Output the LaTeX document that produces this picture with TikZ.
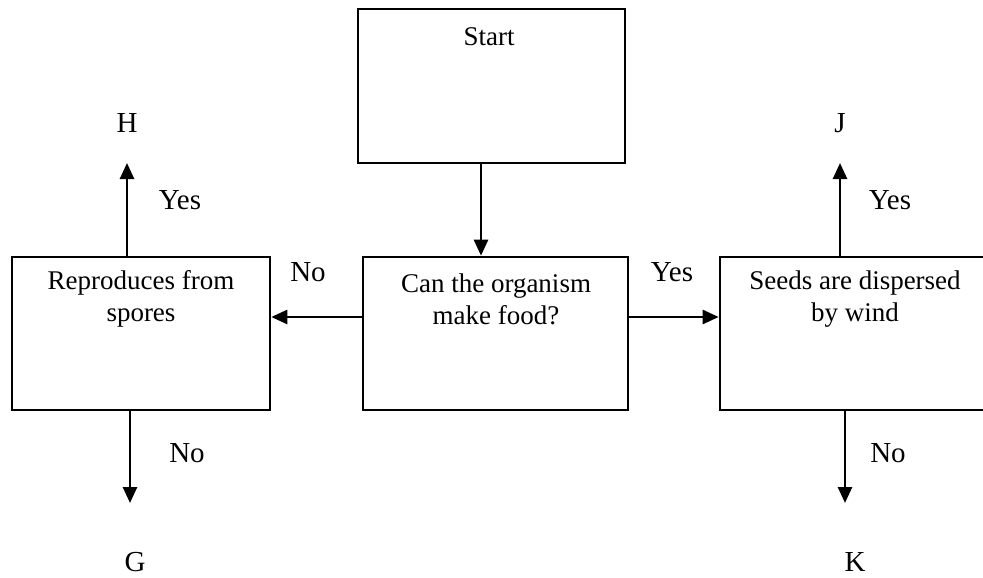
\documentclass[tikz,border=0pt]{standalone}
\usepackage{fontspec}
\setmainfont{Liberation Serif}
\usetikzlibrary{arrows.meta}
\begin{document}
\begin{tikzpicture}[x=1pt,y=-1pt,
  box/.style={draw,line width=2.6pt,minimum width=#1,minimum height=153pt,inner sep=0pt},
  boxtext/.style={align=center,font=\fontsize{27}{32}\selectfont,inner sep=0pt},
  lbl/.style={font=\fontsize{29}{32}\selectfont,inner sep=0pt},
  arr/.style={line width=2.6pt,-{Triangle[width=14pt,length=16pt]}}]
\useasboundingbox (0,0) rectangle (983,578);
\clip (0,0) rectangle (983,578);

% boxes
\node[box=267pt,minimum height=154pt] (start) at (491.5,86) {};
\node[box=258pt] (left) at (141,333.5) {};
\node[box=265pt] (center) at (495.5,333.5) {};
\node[box=280pt] (right) at (860,333.5) {};

% box texts
\node[boxtext] (tstart) at (489,37) {Start};
\node[boxtext] (tleft) at (141,299) {Reproduces from\\spores};
\node[boxtext] (tcenter) at (496,299) {Can the organism\\make food?};
\node[boxtext] (tright) at (855,299) {Seeds are dispersed\\by wind};

% end letters
\node[lbl] (H) at (127,123) {H};
\node[lbl] (J) at (840,123) {J};
\node[lbl] (G) at (135,562) {G};
\node[lbl] (K) at (855,562) {K};
\coordinate (hTip) at (127,163);
\coordinate (jTip) at (840,163);
\coordinate (gTip) at (130,503);
\coordinate (kTip) at (845,503);

% branch labels
\node[lbl] (yesH) at (180,200) {Yes};
\node[lbl] (yesJ) at (890,200) {Yes};
\node[lbl] (noG) at (187,453) {No};
\node[lbl] (noK) at (888,453) {No};
\node[lbl] (noL) at (308,272) {No};
\node[lbl] (yesR) at (672,272) {Yes};

% connectors
\draw[arr] ([xshift=-10.5pt]start.south) -- ([xshift=-10.5pt]start.south |- center.north);
\draw[arr] ([yshift=16.5pt]center.west) -- ([yshift=16.5pt]center.west -| left.east);
\draw[arr] ([yshift=16.5pt]center.east) -- ([yshift=16.5pt]center.east -| right.west);
\draw[arr] (hTip |- left.north) -- (hTip);
\draw[arr] (gTip |- left.south) -- (gTip);
\draw[arr] (jTip |- right.north) -- (jTip);
\draw[arr] (kTip |- right.south) -- (kTip);
\end{tikzpicture}
\end{document}
